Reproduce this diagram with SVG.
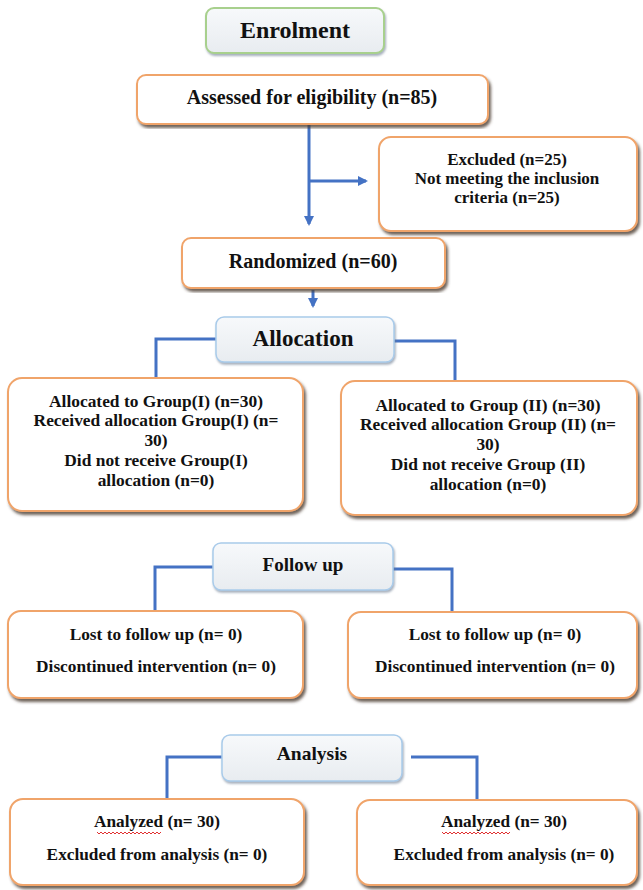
<svg xmlns="http://www.w3.org/2000/svg" width="643" height="890" viewBox="0 0 643 890">
<style>
.box{fill:#ffffff;stroke:#F0A46A;stroke-width:2;filter:url(#sh)}
.hdr{fill:url(#hg);stroke:#A9CBEA;stroke-width:1.5;filter:url(#sh2)}
.enr{fill:url(#hg);stroke:#A8D08D;stroke-width:2;filter:url(#sh2)}
.t{font-family:"Liberation Serif","Times New Roman",serif;font-weight:bold;fill:#111;text-anchor:middle}
.conn{fill:none;stroke:#4472C4;stroke-width:3}
.sq{fill:none;stroke:#E03030;stroke-width:1}
</style>
<defs>
<linearGradient id="hg" x1="0" y1="0" x2="0" y2="1">
<stop offset="0" stop-color="#F7F9FB"/>
<stop offset="1" stop-color="#E8ECF0"/>
</linearGradient>
<filter id="sh" x="-5%" y="-5%" width="112%" height="115%">
<feDropShadow dx="2" dy="3" stdDeviation="1.5" flood-color="#4a3a30" flood-opacity="0.8"/>
</filter>
<filter id="sh2" x="-5%" y="-5%" width="112%" height="120%">
<feDropShadow dx="1" dy="2" stdDeviation="1.2" flood-color="#6a7a90" flood-opacity="0.6"/>
</filter>
<marker id="ah" markerWidth="10" markerHeight="10" refX="8" refY="5" orient="auto" markerUnits="userSpaceOnUse">
<path d="M0,0 L10,5 L0,10 Z" fill="#4472C4"/>
</marker>
</defs>

<g id="connectors">
<path class="conn" d="M309,125 V224" marker-end="url(#ah)"/>
<path class="conn" d="M309,181 H366" marker-end="url(#ah)"/>
<path class="conn" d="M313,290 V306" marker-end="url(#ah)"/>
<path class="conn" d="M217,339 H156 V378"/>
<path class="conn" d="M394,341 H455 V381"/>
<path class="conn" d="M214,567 H155 V611"/>
<path class="conn" d="M393,569 H452 V612"/>
<path class="conn" d="M223,757 H167 V799"/>
<path class="conn" d="M411,757 H477 V800"/>
</g>

<g id="enrolment">
<rect class="enr" x="206" y="8" width="178" height="45" rx="8"/>
<text class="t" x="295" y="38" font-size="24">Enrolment</text>
</g>

<g id="assessed">
<rect class="box" x="137" y="75" width="351" height="49" rx="9"/>
<text class="t" x="312" y="104" font-size="20">Assessed for eligibility (n=85)</text>
</g>

<g id="excluded">
<rect class="box" x="379" y="137" width="258" height="94" rx="12"/>
<text class="t" x="507" y="165" font-size="17">Excluded (n=25)</text>
<text class="t" x="507" y="184" font-size="17">Not meeting the inclusion</text>
<text class="t" x="507" y="203" font-size="17">criteria (n=25)</text>
</g>

<g id="randomized">
<rect class="box" x="182" y="238" width="263" height="50" rx="9"/>
<text class="t" x="313" y="268" font-size="20">Randomized (n=60)</text>
</g>

<g id="allocation">
<rect class="hdr" x="216" y="317" width="178" height="45" rx="8"/>
<text class="t" x="303" y="346" font-size="23">Allocation</text>
</g>

<g id="group1-allocation">
<rect class="box" x="8" y="378" width="295" height="133" rx="14"/>
<text class="t" x="156" y="407" font-size="17.4">Allocated to Group(I) (n=30)</text>
<text class="t" x="156" y="426" font-size="17.4">Received allocation Group(I) (n=</text>
<text class="t" x="156" y="446" font-size="17.4">30)</text>
<text class="t" x="156" y="466" font-size="17.4">Did not receive Group(I)</text>
<text class="t" x="156" y="486" font-size="17.4">allocation (n=0)</text>
</g>

<g id="group2-allocation">
<rect class="box" x="341" y="381" width="296" height="134" rx="14"/>
<text class="t" x="488" y="411" font-size="17.4">Allocated to Group (II) (n=30)</text>
<text class="t" x="488" y="430" font-size="17.4">Received allocation Group (II) (n=</text>
<text class="t" x="488" y="450" font-size="17.4">30)</text>
<text class="t" x="488" y="470" font-size="17.4">Did not receive Group (II)</text>
<text class="t" x="488" y="490" font-size="17.4">allocation (n=0)</text>
</g>

<g id="followup">
<rect class="hdr" x="213" y="543" width="180" height="47" rx="8"/>
<text class="t" x="303" y="571" font-size="19">Follow up</text>
</g>

<g id="group1-followup">
<rect class="box" x="8" y="611" width="295" height="87" rx="13"/>
<text class="t" x="156" y="640" font-size="17.3">Lost to follow up (n= 0)</text>
<text class="t" x="156" y="672" font-size="17.3">Discontinued intervention (n= 0)</text>
</g>

<g id="group2-followup">
<rect class="box" x="348" y="612" width="289" height="86" rx="13"/>
<text class="t" x="495" y="640" font-size="17.3">Lost to follow up (n= 0)</text>
<text class="t" x="495" y="672" font-size="17.3">Discontinued intervention (n= 0)</text>
</g>

<g id="analysis">
<rect class="hdr" x="222" y="735" width="180" height="46" rx="8"/>
<text class="t" x="312" y="760" font-size="19.5">Analysis</text>
</g>

<g id="group1-analysis">
<rect class="box" x="10" y="799" width="294" height="86" rx="13"/>
<text class="t" x="157" y="827" font-size="17.3">Analyzed (n= 30)</text>
<path class="sq" d="M97,832 l2,2 l2,-2 l2,2 l2,-2 l2,2 l2,-2 l2,2 l2,-2 l2,2 l2,-2 l2,2 l2,-2 l2,2 l2,-2 l2,2 l2,-2 l2,2 l2,-2 l2,2 l2,-2 l2,2 l2,-2 l2,2 l2,-2 l2,2 l2,-2 l2,2 l2,-2 l2,2 l2,-2 l2,2 l2,-2"/>
<text class="t" x="157" y="860" font-size="17.3">Excluded from analysis (n= 0)</text>
</g>

<g id="group2-analysis">
<rect class="box" x="357" y="800" width="280" height="85" rx="13"/>
<text class="t" x="504" y="827" font-size="17.3">Analyzed (n= 30)</text>
<path class="sq" d="M442,832 l2,2 l2,-2 l2,2 l2,-2 l2,2 l2,-2 l2,2 l2,-2 l2,2 l2,-2 l2,2 l2,-2 l2,2 l2,-2 l2,2 l2,-2 l2,2 l2,-2 l2,2 l2,-2 l2,2 l2,-2 l2,2 l2,-2 l2,2 l2,-2 l2,2 l2,-2 l2,2 l2,-2 l2,2 l2,-2 l2,2 l2,-2"/>
<text class="t" x="504" y="860" font-size="17.3">Excluded from analysis (n= 0)</text>
</g>
</svg>
